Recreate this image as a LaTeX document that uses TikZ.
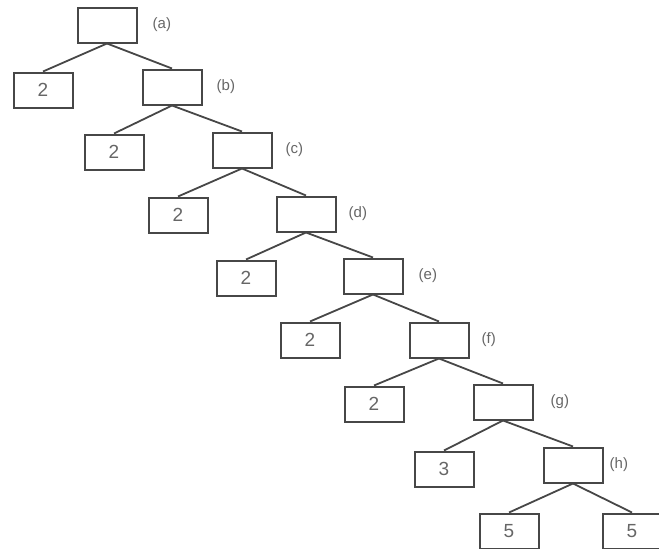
\documentclass[tikz,border=0pt]{standalone}
\usepackage{fontspec}
\setmainfont{Liberation Sans}
\begin{document}
\begin{tikzpicture}[x=1pt,y=-1pt,
  box/.style={draw=black!72,line width=2pt,minimum width=59pt,minimum height=35pt,inner sep=0pt,text=black!60,font=\fontsize{19}{19}\selectfont},
  lab/.style={anchor=west,text=black!60,font=\fontsize{15}{15}\selectfont,inner sep=0pt},
  edge/.style={draw=black!72,line width=1.8pt}]
\useasboundingbox (0,0) rectangle (659,549);
\node[box] (a) at (107,25) {};
\node[box] (l1) at (43,90) {2};
\node[box] (b) at (172,87) {};
\node[box] (l2) at (114,152) {2};
\node[box] (c) at (242,150) {};
\node[box] (l3) at (178,215) {2};
\node[box] (d) at (306,214) {};
\node[box] (l4) at (246,278) {2};
\node[box] (e) at (373,276) {};
\node[box] (l5) at (310,340) {2};
\node[box] (f) at (439,340) {};
\node[box] (l6) at (374,404) {2};
\node[box] (g) at (503,402) {};
\node[box] (l7) at (444,469) {3};
\node[box] (h) at (573,465) {};
\node[box] (l8) at (509,531) {5};
\node[box] (l9) at (632,531) {5};
\node[lab] (ta) at ([xshift=15pt]a.east) {(a)};
\node[lab] (tb) at ([xshift=14pt]b.east) {(b)};
\node[lab] (tc) at ([xshift=13pt]c.east) {(c)};
\node[lab] (td) at ([xshift=12pt]d.east) {(d)};
\node[lab] (te) at ([xshift=15pt]e.east) {(e)};
\node[lab] (tf) at ([xshift=12pt]f.east) {(f)};
\node[lab] (tg) at ([xshift=17pt]g.east) {(g)};
\node[lab] (th) at ([xshift=6pt]h.east) {(h)};
\foreach \p/\l/\r in {a/l1/b,b/l2/c,c/l3/d,d/l4/e,e/l5/f,f/l6/g,g/l7/h,h/l8/l9}{
  \draw[edge] (\p.south) -- (\l.north);
  \draw[edge] (\p.south) -- (\r.north);
}
\end{tikzpicture}
\end{document}
